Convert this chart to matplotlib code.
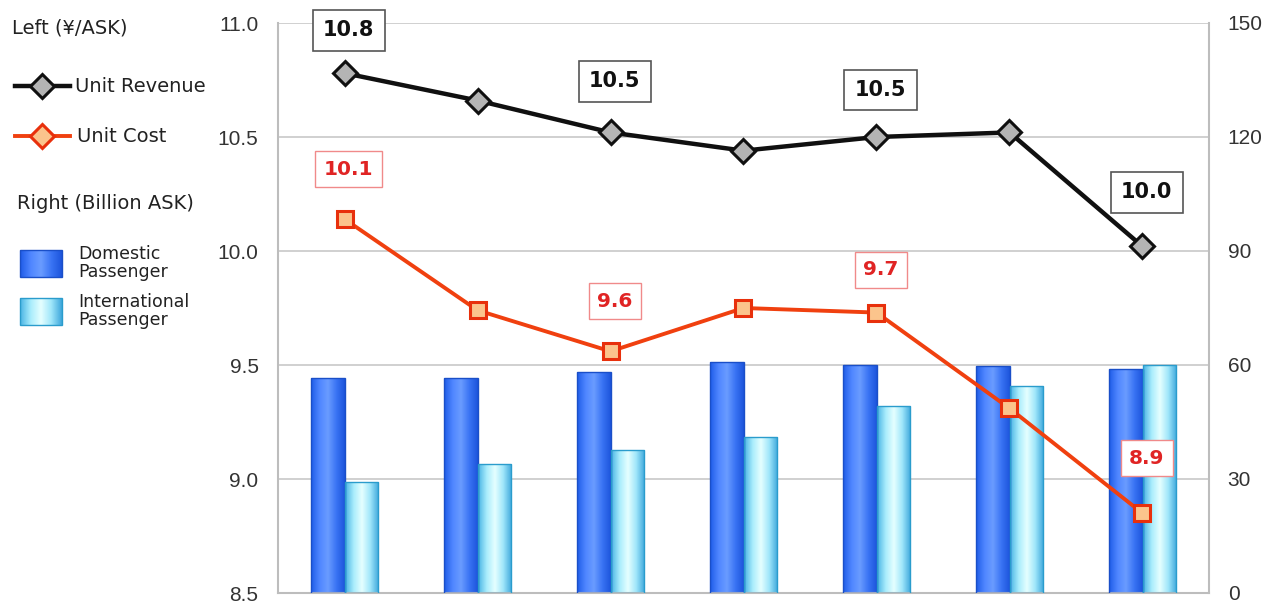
import matplotlib
matplotlib.use("Agg")
import matplotlib.pyplot as plt
import numpy as np
from matplotlib.lines import Line2D
from matplotlib.patches import Rectangle
from matplotlib.colors import LinearSegmentedColormap

# ---- data ----
categories = ["1", "2", "3", "4", "5", "6", "7"]
unit_revenue = [10.78, 10.66, 10.52, 10.44, 10.50, 10.52, 10.02]
unit_cost = [10.14, 9.74, 9.56, 9.75, 9.73, 9.31, 8.85]
domestic_ask = [56.6, 56.6, 58.2, 60.8, 60.0, 59.7, 58.9]
international_ask = [29.2, 34.0, 37.6, 41.1, 49.2, 54.5, 60.0]

revenue_labels = {0: "10.8", 2: "10.5", 4: "10.5", 6: "10.0"}
cost_labels = {0: "10.1", 2: "9.6", 4: "9.7", 6: "8.9"}

left_ticks = [8.5, 9.0, 9.5, 10.0, 10.5, 11.0]
right_ticks = [0, 30, 60, 90, 120, 150]

W, H = 1275, 612
fig = plt.figure(figsize=(W / 100, H / 100), dpi=100)
fig.patch.set_facecolor("white")


def fx(px):
    return px / W


def fy(py):
    return 1 - py / H


# bars live on the back axes (right scale), lines on the front axes (left scale)
ax_bar = fig.add_axes([fx(278), fy(593), (1209 - 278) / W, (593 - 23) / H])
ax = ax_bar.twinx()
ax.set_zorder(ax_bar.get_zorder() + 1)
ax.patch.set_visible(False)

x = np.arange(len(categories))
bw = 0.25

dark_cmap = LinearSegmentedColormap.from_list(
    "dark", ["#1f5ce8", "#4f86ff", "#6a9cff", "#3a74f4", "#1d55dc"])
light_cmap = LinearSegmentedColormap.from_list(
    "light", ["#4ab4e4", "#a8ecfc", "#e6ffff", "#9fe6fa", "#3fa8dc"])
grad = np.linspace(0, 1, 64).reshape(1, -1)

ax_bar.set_xlim(-0.5, len(categories) - 0.5)
ax_bar.set_ylim(0, 150)

for vals, offs, cmap, edge in [
    (domestic_ask, -bw / 2, dark_cmap, "#1a4fc8"),
    (international_ask, bw / 2, light_cmap, "#2a9ccc"),
]:
    bars = ax_bar.bar(x + offs, vals, width=bw, color="none",
                      edgecolor=edge, linewidth=1.0, zorder=3)
    for b in bars:
        x0, y0 = b.get_x(), b.get_y()
        im = ax_bar.imshow(grad, cmap=cmap, aspect="auto", zorder=2,
                           extent=[x0, x0 + b.get_width(), y0, y0 + b.get_height()])
        im.set_clip_path(b)

tick_font = dict(fontfamily="Liberation Sans", fontsize=15, color="#333333")

ax_bar.set_xlim(-0.5, len(categories) - 0.5)
ax_bar.set_ylim(0, 150)
ax_bar.set_yticks(right_ticks, [str(v) for v in right_ticks], **tick_font)
ax_bar.yaxis.tick_right()
ax_bar.set_xticks([])
ax_bar.grid(axis="y", color="#c8c8c8", linewidth=1.2, zorder=0)
ax_bar.set_axisbelow(True)
for side in ["left", "right", "bottom"]:
    ax_bar.spines[side].set_color("#bdbdbd")
    ax_bar.spines[side].set_linewidth(1.5)
ax_bar.spines["top"].set_visible(False)

# lines
ax.plot(x, unit_revenue, color="#101010", linewidth=3.2, marker="D",
        markersize=12, markerfacecolor="#b4b4b4", markeredgecolor="#101010",
        markeredgewidth=2.2, zorder=5)
ax.plot(x, unit_cost, color="#f0400f", linewidth=2.8, marker="s",
        markersize=11, markerfacecolor="#fbc48c", markeredgecolor="#e8300c",
        markeredgewidth=2.2, zorder=5)

ax.set_ylim(8.5, 11.0)
ax.set_yticks(left_ticks, [f"{v:.1f}" for v in left_ticks], **tick_font)
ax.yaxis.tick_left()
ax.set_xlim(-0.5, len(categories) - 0.5)
for sp in ax.spines.values():
    sp.set_visible(False)

ax.tick_params(axis="y", length=0, pad=14)
ax_bar.tick_params(axis="y", length=0, pad=13.5)

# data labels (offsets in pixels above the point)
rev_offsets = {0: 43, 2: 51, 4: 47, 6: 54}
cost_offsets = {0: 50, 2: 50, 4: 43, 6: 55}
for i, txt in revenue_labels.items():
    ax.annotate(txt, (x[i], unit_revenue[i]), xytext=(3, rev_offsets[i] * 0.72),
                textcoords="offset points", ha="center", va="center",
                fontsize=15, fontweight="bold", color="#111111", zorder=6,
                bbox=dict(boxstyle="square,pad=0.5", fc="white", ec="#555555", lw=1.2))
for i, txt in cost_labels.items():
    ax.annotate(txt, (x[i], unit_cost[i]), xytext=(3, cost_offsets[i] * 0.72),
                textcoords="offset points", ha="center", va="center",
                fontsize=14.5, fontweight="bold", color="#e02424", zorder=6,
                bbox=dict(boxstyle="square,pad=0.42", fc="white", ec="#f08a8a", lw=1.0))

# ---- legend panel on the left ----
fig.text(fx(12), fy(28), "Left (¥/ASK)", fontsize=14, color="#222222",
         ha="left", va="center")
fig.add_artist(Line2D([fx(15), fx(70)], [fy(86), fy(86)], color="#101010",
                      linewidth=3.2, transform=fig.transFigure))
fig.add_artist(Line2D([fx(42)], [fy(86)], marker="D", markersize=12,
                      markerfacecolor="#b4b4b4", markeredgecolor="#101010",
                      markeredgewidth=2.2, transform=fig.transFigure))
fig.text(fx(75), fy(86), "Unit Revenue", fontsize=14, color="#222222",
         ha="left", va="center")
fig.add_artist(Line2D([fx(15), fx(70)], [fy(136), fy(136)], color="#f0400f",
                      linewidth=2.8, transform=fig.transFigure))
fig.add_artist(Line2D([fx(42)], [fy(136)], marker="D", markersize=12,
                      markerfacecolor="#fbc48c", markeredgecolor="#e8300c",
                      markeredgewidth=2.2, transform=fig.transFigure))
fig.text(fx(77), fy(136), "Unit Cost", fontsize=14, color="#222222",
         ha="left", va="center")
fig.text(fx(17), fy(204), "Right (Billion ASK)", fontsize=14, color="#222222",
         ha="left", va="center")

for (top, cmap, edge, label) in [
    (250, dark_cmap, "#1a4fc8", "Domestic\nPassenger"),
    (298, light_cmap, "#2a9ccc", "International\nPassenger"),
]:
    rect = Rectangle((fx(20), fy(top + 27)), fx(62) - fx(20), fy(top) - fy(top + 27),
                     transform=fig.transFigure, fc="none", ec=edge, lw=1.0, zorder=3)
    fig.add_artist(rect)
    lax = fig.add_axes([fx(20), fy(top + 27), fx(62) - fx(20), fy(top) - fy(top + 27)])
    lax.imshow(grad, cmap=cmap, aspect="auto")
    lax.axis("off")
    fig.text(fx(78), fy(top + 13), label, fontsize=12.5, color="#222222",
             ha="left", va="center", linespacing=1.0)

fig.savefig("out.png", dpi=100)
